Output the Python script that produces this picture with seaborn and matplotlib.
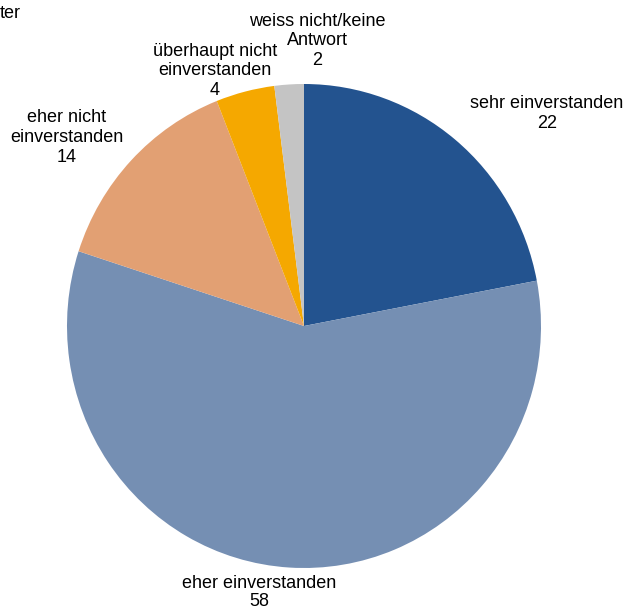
import matplotlib
matplotlib.use("Agg")
import matplotlib.pyplot as plt
import seaborn as sns

categories = ["sehr einverstanden", "eher einverstanden", "eher nicht\neinverstanden",
              "überhaupt nicht\neinverstanden", "weiss nicht/keine\nAntwort"]
values = [22, 58, 14, 4, 2]
colors = ["#23538F", "#758FB3", "#E2A073", "#F5A800", "#C4C4C4"]
title = "ter"

sns.set_theme(style="white")
plt.rcParams['font.family'] = ['Liberation Sans', 'DejaVu Sans']

W, H = 627, 611
fig = plt.figure(figsize=(W / 100, H / 100), dpi=100)
cx, cy, rx, ry = 304, 326, 237, 242
ax = fig.add_axes([(cx - rx) / W, (H - cy - ry) / H, 2 * rx / W, 2 * ry / H])
ax.pie(values, colors=colors, startangle=90, counterclock=False,
       wedgeprops=dict(linewidth=0))
ax.set_xlim(-1, 1)
ax.set_ylim(-1, 1)
ax.set_aspect("auto")
ax.axis("off")

def px(x, y):
    return x / W, 1 - y / H

# label block anchors: centre x, first-line y, line step (pixels)
label_pos = [(547, 104, 19.7), (259, 583, 18.5), (67, 118, 19.7),
             (215, 51, 19.7), (317, 21, 19.7)]
for cat, val, (x, y, step) in zip(categories, values, label_pos):
    lines = cat.split("\n") + [str(val)]
    for i, line in enumerate(lines):
        fig.text(*px(x, y + i * step), line, ha="center", va="center",
                 fontsize=13, color="#000000")

fig.text(*px(0, 14), title, ha="left", va="center", fontsize=13, color="#000000")

fig.savefig("out.png", dpi=100)
